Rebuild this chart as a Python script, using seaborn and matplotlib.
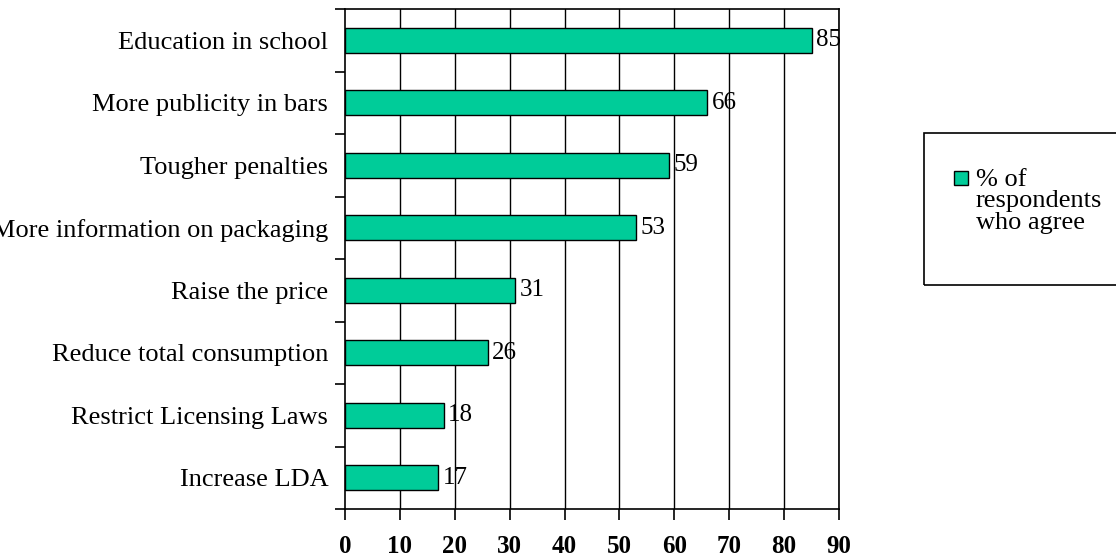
import matplotlib
matplotlib.use("Agg")
import matplotlib.pyplot as plt
import seaborn as sns
import pandas as pd
from matplotlib.patches import Rectangle

categories = ["Education in school", "More publicity in bars", "Tougher penalties",
              "More information on packaging", "Raise the price",
              "Reduce total consumption", "Restrict Licensing Laws", "Increase LDA"]
values = [85, 66, 59, 53, 31, 26, 18, 17]
xticks = [0, 10, 20, 30, 40, 50, 60, 70, 80, 90]
series_name = "% of\nrespondents\nwho agree"
bar_color = "#00CC99"

df = pd.DataFrame({"category": categories, "value": values})

sns.set_style("white")
plt.rcParams["font.family"] = ["Liberation Serif", "DejaVu Serif"]
plt.rcParams["text.color"] = "black"
plt.rcParams["xtick.color"] = "black"
plt.rcParams["ytick.color"] = "black"
plt.rcParams["xtick.labelcolor"] = "black"
plt.rcParams["ytick.labelcolor"] = "black"

fig = plt.figure(figsize=(11.16, 5.6), dpi=100)
ax = fig.add_axes([345 / 1116, 51 / 560, (839 - 345) / 1116, 500 / 560])

sns.barplot(data=df, x="value", y="category", orient="h", color=bar_color,
            edgecolor="black", linewidth=1, width=0.4, saturation=1, ax=ax, zorder=3)

ax.set_xlim(0, 90)
ax.set_ylim(len(categories) - 0.5, -0.5)
ax.set_xticks(xticks)
ax.set_xticklabels([str(t) for t in xticks], fontsize=18, fontweight="bold")
ax.set_xlabel("")
ax.set_ylabel("")

# gridlines
ax.grid(False)
for t in xticks[1:]:
    ax.axvline(t, color="black", lw=1, zorder=1)

for s in ["left", "bottom", "top", "right"]:
    ax.spines[s].set_visible(True)
    ax.spines[s].set_color("black")
    ax.spines[s].set_linewidth(1.2)

# y ticks: labels at centers without marks, boundary minor ticks outward
ax.set_yticks(range(len(categories)))
ax.set_yticklabels(categories, fontsize=19)
ax.tick_params(axis="y", which="major", left=True, length=0, pad=12)
ax.set_yticks([i - 0.5 for i in range(len(categories) + 1)], minor=True)
ax.tick_params(axis="y", which="minor", left=True, length=7, width=1.2,
               color="black", direction="out")
ax.tick_params(axis="x", which="major", bottom=True, length=8, width=1.2,
               color="black", direction="out", pad=11)

for c in ax.containers:
    ax.bar_label(c, labels=[str(v) for v in values], padding=3, fontsize=18)

# legend (key square + label inside a framed box running off the right edge)
fig.patches.append(Rectangle((924 / 1116, 1 - 285 / 560), 0.2, 152 / 560,
                             transform=fig.transFigure, facecolor="none",
                             edgecolor="black", linewidth=1.2))
fig.patches.append(Rectangle((954 / 1116, 1 - 185 / 560), 14 / 1116, 14 / 560,
                             transform=fig.transFigure, facecolor=bar_color,
                             edgecolor="black", linewidth=1))
fig.text(976 / 1116, 1 - 169 / 560, series_name, fontsize=19, va="top", ha="left",
         linespacing=0.97)

fig.savefig("out.png", dpi=100)
